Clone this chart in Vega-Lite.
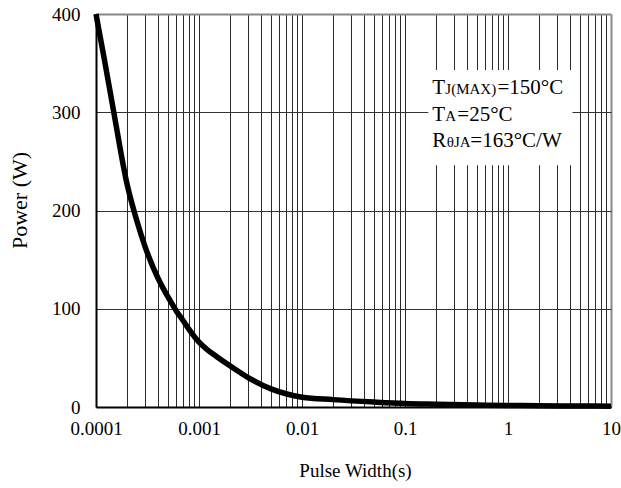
{
  "$schema": "https://vega.github.io/schema/vega-lite/v6.json",
  "width": 515,
  "height": 393,
  "autosize": {"type": "none"},
  "padding": {"left": 96, "top": 14, "right": 10, "bottom": 81},
  "background": "white",
  "config": {
    "view": {"stroke": null},
    "font": "Liberation Serif",
    "style": {"guide-label": {"font": "Liberation Serif", "fill": "black"}, "guide-title": {"font": "Liberation Serif", "fill": "black"}},
    "axis": {"labelFont": "Liberation Serif", "titleFont": "Liberation Serif", "labelColor": "black", "titleColor": "black", "titleFontWeight": "normal"}
  },
  "datasets": {
    "curve": [
      {"t": 0.0001, "p": 400},
      {"t": 0.00012, "p": 355},
      {"t": 0.00015, "p": 298},
      {"t": 0.0002, "p": 227},
      {"t": 0.00025, "p": 189},
      {"t": 0.0003, "p": 163},
      {"t": 0.0004, "p": 131},
      {"t": 0.0005, "p": 112},
      {"t": 0.0006, "p": 98},
      {"t": 0.0007, "p": 88},
      {"t": 0.0008, "p": 79},
      {"t": 0.001, "p": 66},
      {"t": 0.0012, "p": 58.5},
      {"t": 0.0015, "p": 51},
      {"t": 0.002, "p": 42},
      {"t": 0.003, "p": 30},
      {"t": 0.005, "p": 18.5},
      {"t": 0.007, "p": 13.5},
      {"t": 0.01, "p": 10},
      {"t": 0.02, "p": 7.5},
      {"t": 0.05, "p": 5},
      {"t": 0.1, "p": 3.5},
      {"t": 0.2, "p": 2.8},
      {"t": 0.5, "p": 2},
      {"t": 1, "p": 1.6},
      {"t": 2, "p": 1.3},
      {"t": 5, "p": 1},
      {"t": 10, "p": 0.8}
    ],
    "box": [{"t": 0.1684, "t2": 4.225, "p": 343, "p2": 246}],
    "annMain": [
      {"t": 0.1842, "p": 318.6, "txt": "T"},
      {"t": 0.79, "p": 318.6, "txt": "=150°C"},
      {"t": 0.1842, "p": 291.1, "txt": "T"},
      {"t": 0.3224, "p": 291.1, "txt": "=25°C"},
      {"t": 0.1842, "p": 264.6, "txt": "R"},
      {"t": 0.4311, "p": 264.6, "txt": "=163°C/W"}
    ],
    "annSub": [
      {"t": 0.2464, "p": 318.6, "txt": "J(MAX)"},
      {"t": 0.2464, "p": 291.1, "txt": "A"},
      {"t": 0.2548, "p": 264.6, "txt": "θJA"}
    ]
  },
  "encoding": {
    "x": {
      "field": "t", "type": "quantitative",
      "scale": {"type": "log", "domain": [0.0001, 10]},
      "axis": {
        "title": "Pulse Width(s)",
        "values": [0.0001,0.0002,0.0003,0.0004,0.0005,0.0006,0.0007,0.0008,0.0009,0.001,0.002,0.003,0.004,0.005,0.006,0.007,0.008,0.009,0.01,0.02,0.03,0.04,0.05,0.06,0.07,0.08,0.09,0.1,0.2,0.3,0.4,0.5,0.6,0.7,0.8,0.9,1,2,3,4,5,6,7,8,9,10],
        "format": "~g",
        "labelExpr": "indexof([0.0001,0.001,0.01,0.1,1,10], datum.value) >= 0 ? datum.label : ''",
        "labelOverlap": false,
        "labelFlush": false,
        "labelBound": false,
        "labelFont": "Liberation Serif",
        "labelFontSize": 19,
        "labelPadding": 12,
        "ticks": false,
        "domainColor": "black",
        "domainWidth": 2,
        "grid": true,
        "gridColor": {"condition": {"test": "datum.value >= 9.99", "value": "#888888"}, "value": "#2a2a2a"},
        "gridWidth": {"condition": {"test": "datum.value >= 9.99", "value": 2}, "value": 1},
        "gridOpacity": 1,
        "titleFont": "Liberation Serif",
        "titleFontSize": 19,
        "titleBaseline": "alphabetic",
        "titleX": 259,
        "titleY": 69.5,
        "titleAlign": "center"
      }
    },
    "y": {
      "field": "p", "type": "quantitative",
      "scale": {"domain": [0, 400]},
      "axis": {
        "title": "Power (W)",
        "values": [0, 100, 200, 300, 400],
        "labelFont": "Liberation Serif",
        "labelFontSize": 19,
        "labelPadding": 16,
        "ticks": false,
        "domainColor": "black",
        "domainWidth": 2,
        "grid": true,
        "gridColor": {"condition": {"test": "datum.value === 400", "value": "#888888"}, "value": "#333333"},
        "gridWidth": {"condition": {"test": "datum.value === 400", "value": 2}, "value": 1},
        "gridOpacity": 1,
        "titleFont": "Liberation Serif",
        "titleFontSize": 22,
        "titleAngle": 270,
        "titleBaseline": "middle",
        "titleAlign": "center",
        "titleX": -77,
        "titleY": 186
      }
    }
  },
  "layer": [
    {
      "data": {"name": "box"},
      "mark": {"type": "rect", "fill": "white", "stroke": null},
      "encoding": {
        "x2": {"field": "t2"},
        "y2": {"field": "p2"}
      }
    },
    {
      "data": {"name": "curve"},
      "mark": {"type": "line", "color": "black", "strokeWidth": 5.5, "interpolate": "monotone"}
    },
    {
      "data": {"name": "annMain"},
      "mark": {"type": "text", "align": "left", "baseline": "alphabetic", "fontSize": 21, "color": "black", "font": "Liberation Serif"},
      "encoding": {"text": {"field": "txt"}}
    },
    {
      "data": {"name": "annSub"},
      "mark": {"type": "text", "align": "left", "baseline": "alphabetic", "fontSize": 15, "color": "black", "font": "Liberation Serif"},
      "encoding": {"text": {"field": "txt"}}
    }
  ]
}
